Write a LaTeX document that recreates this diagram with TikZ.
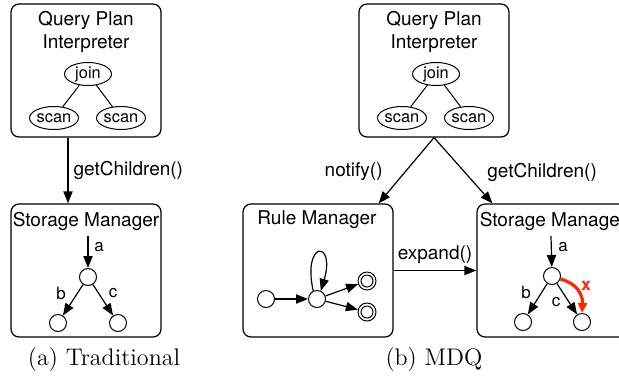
\documentclass[tikz,border=0pt]{standalone}
\usepackage{fontspec}
\newfontfamily\hv{TeX Gyre Heros}
\usetikzlibrary{arrows.meta,calc,shapes.geometric}
\definecolor{xred}{RGB}{255,38,0}
\begin{document}
\begin{tikzpicture}[x=0.5pt,y=-0.5pt,
  box/.style={draw, line width=0.6pt, rounded corners=4pt, minimum width=75pt, minimum height=66.5pt, inner sep=0},
  ttl/.style={font=\hv\fontsize{9.5pt}{11.5pt}\selectfont, align=center, inner sep=0},
  lbl/.style={font=\hv\fontsize{9.5pt}{11.5pt}\selectfont, inner sep=0},
  op/.style={draw, ellipse, line width=0.5pt, minimum width=23.5pt, minimum height=11.5pt, inner sep=0, font=\hv\fontsize{8.2pt}{9pt}\selectfont},
  st/.style={draw, circle, line width=0.5pt, minimum size=8.5pt, inner sep=0},
  acc/.style={draw, circle, line width=0.5pt, minimum size=9pt, inner sep=0},
  arr/.style={line width=0.6pt, -{Triangle[length=6pt,width=4.6pt]}},
  redarr/.style={xred, line width=1.6pt, -{Triangle[length=5pt,width=4.5pt]}},
  sm/.style={font=\hv\fontsize{8.5pt}{10pt}\selectfont, inner sep=0},
  capt/.style={font=\fontsize{12pt}{14pt}\selectfont, inner sep=0}
]
\clip (0,0) rectangle (619,376);

% ---------- (a) Traditional ----------
\node[box] (qpiL) at (86,70.5) {};
\node[ttl] (tqL) at (86,32) {Query Plan\\Interpreter};
\node[op] (jL) at (88,74) {join};
\node[op] (sL1) at (54,118) {scan};
\node[op] (sL2) at (121,118) {scan};
\draw[line width=0.5pt] (jL) -- (sL1);
\draw[line width=0.5pt] (jL) -- (sL2);

\node[box] (smL) at (86,270.5) {};
\node[ttl] (tsL) at (86,221) {Storage Manager};
\coordinate (aL) at (88,236);
\node[st] (tL) at (88,277) {};
\node[st] (bL1) at (58,323) {};
\node[st] (bL2) at (118,323) {};
\draw[arr] (aL) -- (tL);
\draw[arr] (tL) -- (bL1);
\draw[arr] (tL) -- (bL2);
\node[sm] (laL) at (99,247) {a};
\node[sm] (lbL) at (61,293) {b};
\node[sm] (lcL) at (113,293) {c};

\draw[arr] ([xshift=-9pt]qpiL.south) -- node[midway, right, xshift=2.5pt, lbl] (gcL) {getChildren()} ([xshift=-9pt]smL.north);

\node[capt] (capA) at (104,359) {(a) Traditional};

% ---------- (b) MDQ ----------
\node[box] (qpiR) at (434,70.5) {};
\node[ttl] (tqR) at (434,32) {Query Plan\\Interpreter};
\node[op] (jR) at (436,74) {join};
\node[op] (sR1) at (402,118) {scan};
\node[op] (sR2) at (469,118) {scan};
\draw[line width=0.5pt] (jR) -- (sR1);
\draw[line width=0.5pt] (jR) -- (sR2);

\node[box] (rm) at (318,270.5) {};
\node[ttl] (trm) at (317,220) {Rule Manager};
\node[st] (s0) at (266,299) {};
\node[st] (s1) at (317,299) {};
\node[acc] (f1) at (367,281) {};
\node[acc] (f2) at (367,312) {};
\draw[line width=0.5pt] (f1.center) circle[radius=3pt];
\draw[line width=0.5pt] (f2.center) circle[radius=3pt];
\draw[arr] (s0) -- (s1);
\draw[arr] (s1) -- (f1);
\draw[arr] (s1) -- (f2);
\draw[arr] (s1.115) .. controls (302,240) and (336,240) .. (s1.65);

\node[box] (smR) at (552,270.5) {};
\node[ttl] (tsR) at (553,221) {Storage Manager};
\coordinate (aR) at (551,236);
\node[st] (tR) at (552,276) {};
\node[st] (bR1) at (523,322) {};
\node[st] (bR2) at (582,322) {};
\draw[arr] (aR) -- (tR);
\draw[arr] (tR) -- (bR1);
\draw[arr] (tR) -- (bR2);
\draw[redarr] (tR.-20) .. controls (576,283) and (583,294) .. (bR2.north);
\node[sm] (laR) at (563,247) {a};
\node[sm] (lbR) at (526,292) {b};
\node[sm] (lcR) at (556,302) {c};
\node[sm, text=xred, font=\hv\bfseries\fontsize{8.5pt}{10pt}\selectfont] (lxR) at (586,286) {x};

\draw[arr] (qpiR.south) -- ($(rm.north east)+(-15,0)$);
\draw[arr] (qpiR.south) -- ($(smR.north west)+(16,0)$);
\node[lbl, anchor=east] (ntf) at (383,172) {notify()};
\node[lbl, anchor=west] (gcR) at (487,172) {getChildren()};
\draw[arr] (rm.east) -- node[midway, above=3pt, lbl] (exp) {expand()} (smR.west);

\node[capt] (capB) at (434,359) {(b) MDQ};
\end{tikzpicture}
\end{document}
